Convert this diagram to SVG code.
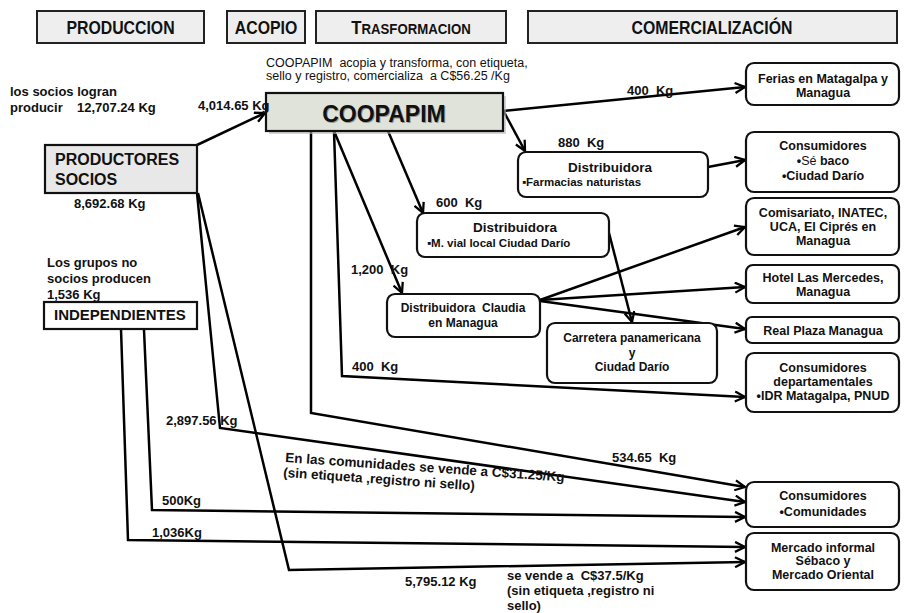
<svg xmlns="http://www.w3.org/2000/svg" width="906" height="613" viewBox="0 0 906 613">
<style>
text{font-family:"Liberation Sans",Arial,sans-serif;fill:#111}
.b{font-weight:bold}
.hdr{fill:#eeeeee;stroke:#222;stroke-width:2}
.hd{font-size:18px;font-weight:bold;text-anchor:middle}
.box{fill:#fff;stroke:#111;stroke-width:2.2}
.lab{font-size:13px;font-weight:bold}
.rt{font-size:12.5px;font-weight:bold;text-anchor:middle}
.c{text-anchor:middle}
.ar{fill:none;stroke:#000;stroke-width:2.5;marker-end:url(#ah)}
</style>
<defs>
<marker id="ah" viewBox="0 0 12 12" refX="11" refY="6" markerWidth="12" markerHeight="12" markerUnits="userSpaceOnUse" orient="auto">
<path d="M1,1 L11,6 L1,11" fill="none" stroke="#000" stroke-width="2.3"/>
</marker>
</defs>

<g id="headers">
<rect class="hdr" x="37" y="11" width="167" height="32"/>
<text class="hd" transform="translate(120.5,34) scale(0.88,1)">PRODUCCION</text>
<rect class="hdr" x="227" y="11" width="78" height="32"/>
<text class="hd" transform="translate(266,34) scale(0.88,1)">ACOPIO</text>
<rect class="hdr" x="316" y="11" width="190" height="32"/>
<text class="hd" transform="translate(411,34) scale(0.88,1)"><tspan font-size="19">T</tspan><tspan font-size="15">RASFORMACION</tspan></text>
<rect class="hdr" x="528" y="11" width="369" height="32"/>
<text class="hd" transform="translate(712,34) scale(0.88,1)">COMERCIALIZACIÓN</text>
</g>

<g id="connectors">
<path class="ar" d="M197,145 L265,113"/>
<path class="ar" d="M503,111 L745,87"/>
<path class="ar" d="M503,110 L525,151"/>
<path class="ar" d="M388,131 L423,213"/>
<path class="ar" d="M334,131 L402,293"/>
<path class="ar" d="M334,131 L342,376 L745,397"/>
<path class="ar" d="M311,131 L311,413 L745,487"/>
<path class="ar" d="M708,167 L745,160"/>
<path class="ar" d="M609,233 L632,322"/>
<path class="ar" d="M540,300 L745,227"/>
<path class="ar" d="M540,300 L745,287"/>
<path class="ar" d="M540,301 L745,329"/>
<path class="ar" d="M197,193 L220,428 L745,502"/>
<path class="ar" d="M198,193 L289,570 L745,562"/>
<path class="ar" d="M121,329 L128,540 L745,547"/>
<path class="ar" d="M144,330 L152,510 L745,517"/>
</g>

<g id="coopapim">
<rect x="269" y="96" width="237" height="38" fill="#b8b8b8" opacity="0.6"/>
<rect x="266" y="93" width="237" height="38" fill="#dfe3d9" stroke="#111" stroke-width="2.2"/>
<text x="385" y="123" class="c" font-family="Lato,'Liberation Sans',sans-serif" font-weight="bold" font-size="23" fill="#999" opacity="0.35">COOPAPIM</text>
<text x="384" y="122" class="c" font-family="Lato,'Liberation Sans',sans-serif" font-weight="bold" font-size="23">COOPAPIM</text>
</g>

<g id="productores">
<rect x="45" y="145" width="152" height="48" fill="#e8e8e8" stroke="#111" stroke-width="2.2"/>
<text x="55" y="165" class="b" font-size="16">PRODUCTORES</text>
<text x="55" y="185" class="b" font-size="16">SOCIOS</text>
</g>

<g id="independientes">
<rect x="44" y="302" width="153" height="27" fill="#fff" stroke="#111" stroke-width="2.2"/>
<text x="54" y="320" class="b" font-size="15">INDEPENDIENTES</text>
</g>

<g id="farmacias">
<rect class="box" x="518" y="152" width="190" height="45" rx="8"/>
<text x="610" y="172" class="c b" font-size="13.5">Distribuidora</text>
<text x="522" y="186" class="b" font-size="11.5">▪Farmacias naturistas</text>
</g>

<g id="mvial">
<rect class="box" x="417" y="213" width="192" height="44" rx="8"/>
<text x="515" y="232" class="c b" font-size="13.5">Distribuidora</text>
<text x="427" y="247" class="b" font-size="11.5">▪M. vial local Ciudad Darío</text>
</g>

<g id="claudia">
<rect class="box" x="387" y="294" width="153" height="43" rx="8"/>
<text x="463" y="312" class="c b" font-size="12" xml:space="preserve">Distribuidora  Claudia</text>
<text x="463" y="327" class="c b" font-size="12">en Managua</text>
</g>

<g id="carretera">
<rect class="box" x="547" y="323" width="170" height="60" rx="8"/>
<text x="632" y="342" class="c b" font-size="12">Carretera panamericana</text>
<text x="632" y="357" class="c b" font-size="12">y</text>
<text x="632" y="371" class="c b" font-size="12">Ciudad Darío</text>
</g>

<g id="ferias">
<rect class="box" x="746" y="63" width="153" height="42" rx="8"/>
<text x="823" y="83" class="rt" font-size="12.5">Ferias en Matagalpa y</text>
<text x="823" y="97" class="rt" font-size="12.5">Managua</text>
</g>

<g id="sebaco">
<rect class="box" x="746" y="132" width="153" height="60" rx="8"/>
<text x="823" y="150" class="rt" font-size="13">Consumidores</text>
<text x="823" y="165" class="rt" font-size="13">•<tspan font-weight="normal">Sé</tspan> baco</text>
<text x="823" y="180" class="rt" font-size="13">•Ciudad Darío</text>
</g>

<g id="comisariato">
<rect class="box" x="746" y="198" width="153" height="57" rx="8"/>
<text x="823" y="217" class="rt" font-size="13">Comisariato, INATEC,</text>
<text x="823" y="231" class="rt" font-size="13">UCA, El Ciprés en</text>
<text x="823" y="245" class="rt" font-size="13">Managua</text>
</g>

<g id="hotel">
<rect class="box" x="746" y="265" width="153" height="38" rx="7"/>
<text x="823" y="282" class="rt" font-size="11">Hotel Las Mercedes,</text>
<text x="823" y="296" class="rt" font-size="11">Managua</text>
</g>

<g id="realplaza">
<rect class="box" x="746" y="317" width="153" height="26" rx="6"/>
<text x="823" y="335" class="rt" font-size="13">Real Plaza Managua</text>
</g>

<g id="departamentales">
<rect class="box" x="746" y="353" width="153" height="59" rx="8"/>
<text x="823" y="372" class="rt" font-size="13">Consumidores</text>
<text x="823" y="386" class="rt" font-size="13">departamentales</text>
<text x="823" y="400" class="rt" font-size="12.5">•IDR Matagalpa, PNUD</text>
</g>

<g id="comunidades">
<rect class="box" x="746" y="482" width="153" height="45" rx="8"/>
<text x="823" y="500" class="rt" font-size="14.5">Consumidores</text>
<text x="823" y="516" class="rt" font-size="14.5">•Comunidades</text>
</g>

<g id="mercado">
<rect class="box" x="746" y="533" width="153" height="57" rx="8"/>
<text x="823" y="552" class="rt" font-size="12">Mercado informal</text>
<text x="823" y="565" class="rt" font-size="12">Sébaco y</text>
<text x="823" y="579" class="rt" font-size="12">Mercado Oriental</text>
</g>

<g id="labels">
<text x="266" y="67" font-size="12.5" fill="#222" xml:space="preserve">COOPAPIM  acopia y transforma, con etiqueta,</text>
<text x="266" y="80" font-size="12.5" fill="#222" xml:space="preserve">sello y registro, comercializa  a C$56.25 /Kg</text>
<text x="10" y="96" class="lab">los socios logran</text>
<text x="10" y="112" class="lab">producir<tspan x="77">12,707.24 Kg</tspan></text>
<text x="198" y="110" class="lab">4,014.65 Kg</text>
<text x="74" y="208" class="lab">8,692.68 Kg</text>
<text x="47" y="267" class="lab" font-size="13.5">Los grupos no</text>
<text x="47" y="283" class="lab" font-size="13.5">socios producen</text>
<text x="47" y="299" class="lab" font-size="13.5">1,536 Kg</text>
<text x="627" y="95" class="lab" xml:space="preserve">400  Kg</text>
<text x="558" y="147" class="lab" xml:space="preserve">880  Kg</text>
<text x="436" y="207" class="lab" xml:space="preserve">600  Kg</text>
<text x="351" y="274" class="lab" xml:space="preserve">1,200  Kg</text>
<text x="352" y="371" class="lab" xml:space="preserve">400  Kg</text>
<text x="166" y="425" class="lab">2,897.56 Kg</text>
<text x="612" y="462" class="lab" xml:space="preserve">534.65  Kg</text>
<text x="162" y="505" class="lab">500Kg</text>
<text x="152" y="537" class="lab">1,036Kg</text>
<text x="405" y="586" class="lab">5,795.12 Kg</text>
<text x="507" y="580" class="lab" xml:space="preserve">se vende a  C$37.5/Kg</text>
<text x="507" y="595" class="lab">(sin etiqueta ,registro ni</text>
<text x="507" y="610" class="lab">sello)</text>
<g transform="translate(285,462) rotate(4)">
<text x="0" y="0" class="b" font-size="13.5">En las comunidades se vende a C$31.25/Kg</text>
<text x="-1" y="15" class="b" font-size="13.5">(sin etiqueta ,registro ni sello)</text>
</g>
</g>
</svg>
